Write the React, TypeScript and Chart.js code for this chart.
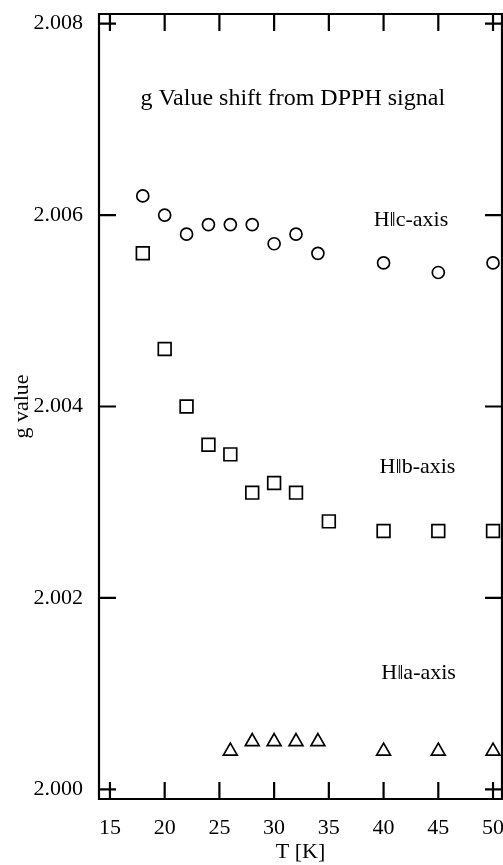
import { useEffect, useRef } from 'react';
import { Chart, registerables } from 'chart.js';

Chart.register(...registerables);

const xTickValues = [15, 20, 25, 30, 35, 40, 45, 50];
const yTickValues = [2.0, 2.002, 2.004, 2.006, 2.008];

const cAxisT = [18, 20, 22, 24, 26, 28, 30, 32, 34, 40, 45, 50];
const cAxisG = [2.0062, 2.006, 2.0058, 2.0059, 2.0059, 2.0059, 2.0057, 2.0058, 2.0056, 2.0055, 2.0054, 2.0055];
const bAxisT = [18, 20, 22, 24, 26, 28, 30, 32, 35, 40, 45, 50];
const bAxisG = [2.0056, 2.0046, 2.004, 2.0036, 2.0035, 2.0031, 2.0032, 2.0031, 2.0028, 2.0027, 2.0027, 2.0027];
const aAxisT = [26, 28, 30, 32, 34, 40, 45, 50];
const aAxisG = [2.0004, 2.0005, 2.0005, 2.0005, 2.0005, 2.0004, 2.0004, 2.0004];

const labelTexts = ['g Value shift from DPPH signal', 'H\u2016c-axis', 'H\u2016b-axis', 'H\u2016a-axis'];
const labelT = [31.7, 42.5, 43.1, 43.2];
const labelG = [2.00721, 2.00595, 2.00337, 2.00121];
const labelSizes = [24, 22, 22, 22];

const SERIF = '"Liberation Serif", "Times New Roman", serif';

const framePlugin = {
  id: 'frameAndTicks',
  afterDraw(chart: any) {
    const { ctx, chartArea } = chart;
    const xs = chart.scales.x;
    const ys = chart.scales.y;
    const { left, right, top, bottom } = chartArea;
    const len = 17;
    ctx.save();
    ctx.strokeStyle = '#000';
    ctx.lineWidth = 2.2;
    ctx.beginPath();
    ctx.rect(left, top, right - left, bottom - top);
    ctx.stroke();
    ctx.beginPath();
    xTickValues.forEach((v) => {
      const px = xs.getPixelForValue(v);
      ctx.moveTo(px, bottom);
      ctx.lineTo(px, bottom - len);
      ctx.moveTo(px, top);
      ctx.lineTo(px, top + len);
    });
    yTickValues.forEach((v) => {
      const py = ys.getPixelForValue(v);
      ctx.moveTo(left, py);
      ctx.lineTo(left + len, py);
      ctx.moveTo(right, py);
      ctx.lineTo(right - len, py);
    });
    ctx.stroke();
    ctx.fillStyle = '#000';
    ctx.textAlign = 'center';
    ctx.textBaseline = 'middle';
    labelTexts.forEach((t, i) => {
      ctx.font = `${labelSizes[i]}px ${SERIF}`;
      ctx.fillText(t, xs.getPixelForValue(labelT[i]), ys.getPixelForValue(labelG[i]));
    });
    ctx.restore();
  },
};

export default function App() {
  const ref = useRef<HTMLCanvasElement | null>(null);
  useEffect(() => {
    if (!ref.current) return;
    const mk = (xs: number[], ys: number[]) => xs.map((x, i) => ({ x, y: ys[i] }));
    const chart = new Chart(ref.current, {
      type: 'scatter',
      data: {
        datasets: [
          {
            label: 'H||c-axis',
            data: mk(cAxisT, cAxisG),
            pointStyle: 'circle',
            pointRadius: 6,
            borderColor: '#000',
            backgroundColor: 'rgba(0,0,0,0)',
            borderWidth: 1.7,
          },
          {
            label: 'H||b-axis',
            data: mk(bAxisT, bAxisG),
            pointStyle: 'rect',
            pointRadius: 9,
            borderColor: '#000',
            backgroundColor: 'rgba(0,0,0,0)',
            borderWidth: 1.7,
          },
          {
            label: 'H||a-axis',
            data: mk(aAxisT, aAxisG),
            pointStyle: 'triangle',
            pointRadius: 8,
            borderColor: '#000',
            backgroundColor: 'rgba(0,0,0,0)',
            borderWidth: 1.7,
          },
        ],
      },
      options: {
        responsive: false,
        animation: false,
        layout: { autoPadding: false, padding: { top: 14, right: 1, left: 0, bottom: 0 } },
        plugins: { legend: { display: false }, tooltip: { enabled: false } },
        scales: {
          x: {
            type: 'linear',
            min: 14.0,
            max: 50.82,
            afterBuildTicks: (s: any) => {
              s.ticks = xTickValues.map((v) => ({ value: v }));
            },
            afterFit: (s: any) => {
              s.height = 66;
              s.paddingLeft = 0;
              s.paddingRight = 0;
            },
            grid: { display: false, drawTicks: false },
            border: { display: false },
            ticks: {
              color: '#000',
              padding: 16,
              maxRotation: 0,
              autoSkip: false,
              font: { family: SERIF, size: 22 },
              callback: (v: any) => String(v),
            },
            title: {
              display: true,
              text: 'T [K]',
              color: '#000',
              font: { family: SERIF, size: 22 },
              padding: { top: 0, bottom: 0 },
            },
          },
          y: {
            type: 'linear',
            min: 1.9999,
            max: 2.0081,
            afterBuildTicks: (s: any) => {
              s.ticks = yTickValues.map((v) => ({ value: v }));
            },
            afterFit: (s: any) => {
              s.width = 99;
              s.paddingTop = 0;
              s.paddingBottom = 0;
            },
            grid: { display: false, drawTicks: false },
            border: { display: false },
            ticks: {
              color: '#000',
              padding: 16,
              autoSkip: false,
              font: { family: SERIF, size: 22 },
              callback: (v: any) => Number(v).toFixed(3),
            },
            title: {
              display: true,
              text: 'g value',
              color: '#000',
              font: { family: SERIF, size: 22 },
              padding: { top: 9, bottom: 0 },
            },
          },
        },
      },
      plugins: [framePlugin],
    });
    return () => chart.destroy();
  }, []);
  return (
    <div style={{ position: 'fixed', left: 0, top: 0, width: 503, height: 865, background: '#fff' }}>
      <canvas ref={ref} width={503} height={865} style={{ width: 503, height: 865, display: 'block' }} />
    </div>
  );
}
